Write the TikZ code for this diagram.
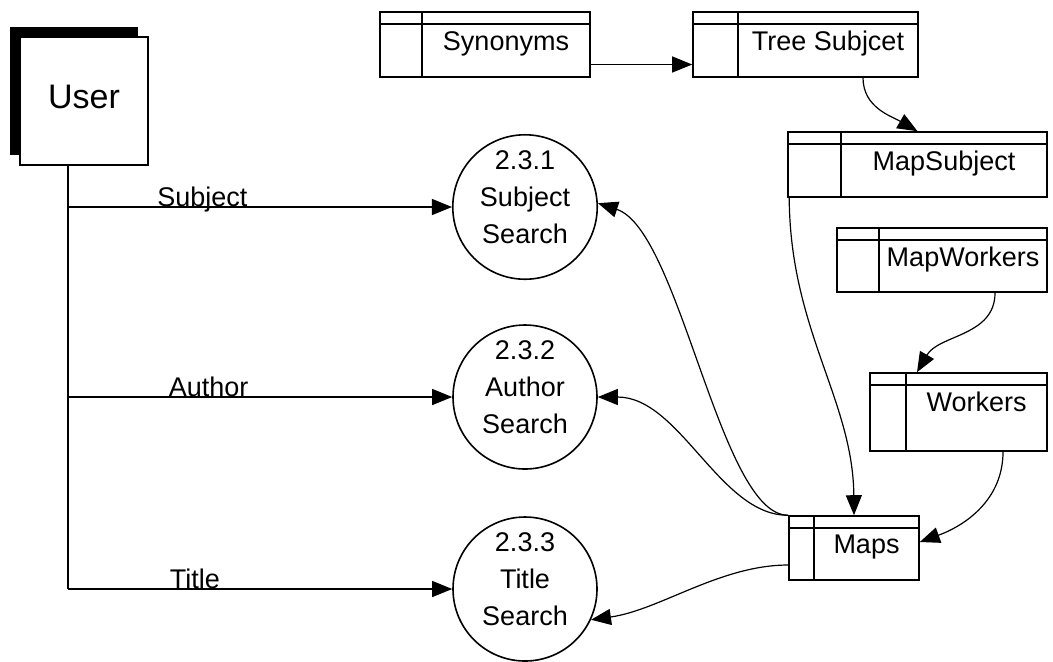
\documentclass[tikz,border=0pt]{standalone}
\usepackage{fontspec}
\setmainfont{Liberation Sans}
\usetikzlibrary{arrows.meta,fit,shadows}

\tikzset{
  flow/.style={-{Triangle[length=10pt,width=8pt]}, line width=0.6pt},
  store/.style={draw, line width=0.8pt, inner sep=0pt},
  storetext/.style={anchor=north, inner sep=3.5pt, font=\fontsize{13.5}{16}\selectfont},
  process/.style={draw, circle, line width=0.8pt, minimum size=72pt, inner sep=0pt,
    align=center, text depth=10pt, font=\fontsize{13.5}{18.5}\selectfont},
  entity/.style={draw, line width=0.8pt, fill=white, minimum size=64pt,
    font=\fontsize{17}{20}\selectfont,
    general shadow={fill=black, shadow xshift=-5pt, shadow yshift=5pt}},
  lbl/.style={anchor=base, inner sep=0pt, yshift=0.5pt, font=\fontsize{13.5}{16}\selectfont}
}

% data store: name, left, top, right, bottom, divider, text
\newcommand{\dstore}[7]{%
  \node[store, fit={(#2,#3) (#4,#5)}] (#1) {};
  \draw[line width=0.6pt] (#2,#3+12) -- (#4,#3+12);
  \draw[line width=0.8pt] (#6,#3) -- (#6,#5);
  \node[storetext] at ({(#6+#4)/2},#3+12) {#7};
}

\begin{document}
\begin{tikzpicture}[x=0.5pt, y=-0.5pt]
  \useasboundingbox (0,0) rectangle (1053,661);

  % external entity and processes
  \node[entity] (user) at (84,101) {\raisebox{4pt}{User}};
  \node[process] (c1) at (525,207) {2.3.1\\Subject\\Search};
  \node[process] (c2) at (525,397) {2.3.2\\Author\\Search};
  \node[process] (c3) at (525,589) {2.3.3\\Title\\Search};

  % data stores
  \dstore{syn}{380}{12}{590}{77}{422}{Synonyms}
  \dstore{tree}{693}{12}{918}{77}{738}{Tree Subjcet}
  \dstore{msub}{788}{132}{1047}{197}{841}{MapSubject}
  \dstore{mwork}{837}{228}{1047}{292}{879}{MapWorkers}
  \dstore{work}{870}{373}{1047}{451}{906}{Workers}
  \dstore{maps}{789}{516}{919}{580}{814}{Maps}

  % user requests
  \coordinate (trunk) at (68,589);
  \draw[line width=0.6pt] (user.south -| trunk) -- (trunk);
  \draw[flow] (trunk |- c1.west) -- node[lbl, pos=0.35] {Subject} (c1.west);
  \draw[flow] (trunk |- c2.west) -- node[lbl, pos=0.366] {Author} (c2.west);
  \draw[flow] (trunk) -- node[lbl, pos=0.33] {Title} (c3.west);

  % store flows
  \draw[flow] ([yshift=-10pt]syn.east) -- ([yshift=-10pt]tree.west);
  \draw[flow] ([xshift=28.75pt]tree.south) to[out=-90, in=150] (msub.north);
  \draw[flow] ([xshift=1pt]msub.south west) .. controls (790,330) and (853,400) .. (maps.north);
  \draw[flow] ([xshift=26.5pt]mwork.south) to[out=-90, in=60] ([xshift=-20.75pt]work.north);
  \draw[flow] ([xshift=22.25pt]work.south) to[out=-90, in=20] ([yshift=3pt]maps.east);

  % maps to searches
  \draw[flow] (maps.north west) .. controls (720,516) and (680,230) .. (c1.3);
  \draw[flow] (maps.north west) .. controls (720,516) and (680,397) .. (c2.east);
  \draw[flow] ([yshift=-8.5pt]maps.west) .. controls (720,565) and (660,610) .. (c3.-25);
\end{tikzpicture}
\end{document}
